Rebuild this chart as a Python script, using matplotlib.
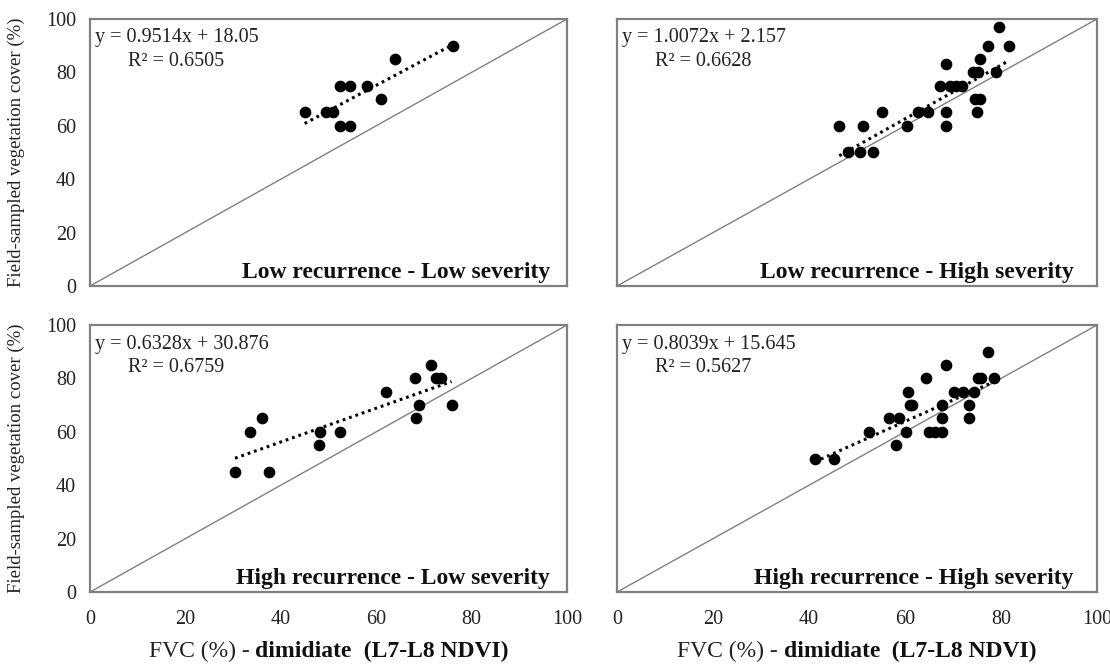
import matplotlib
matplotlib.use("Agg")
import matplotlib.pyplot as plt
import numpy as np

plt.rcParams['font.family'] = ['Liberation Serif', 'DejaVu Serif']

titles = ["Low recurrence - Low severity", "Low recurrence - High severity",
          "High recurrence - Low severity", "High recurrence - High severity"]

x_llow = [45, 49.5, 51, 52.5, 54.5, 52.5, 54.5, 58, 61, 64, 76]
y_llow = [65, 65, 65, 75, 75, 60, 60, 75, 70, 85, 90]

x_lhigh = [46.3, 48.2, 50.7, 53.3, 51.3, 55.3, 60.5, 62.7, 64.8, 67.2, 68.6, 68.6, 68.6,
           69.3, 70.7, 71.9, 74.1, 75.2, 75.6, 74.5, 75.6, 75, 77.2, 79, 79.5, 81.6]
y_lhigh = [60, 50, 50, 50, 60, 65, 60, 65, 65, 75, 83, 65, 60,
           75, 75, 75, 80, 80, 85, 70, 70, 65, 90, 80, 97, 90]

x_hlow = [30.4, 33.5, 36.1, 37.5, 48.3, 48.1, 52.4, 62.1, 68.1, 68.9, 68.3, 71.4, 72.6, 73.5, 75.8]
y_hlow = [45, 60, 65, 45, 60, 55, 60, 75, 80, 70, 65, 85, 80, 80, 70]

x_hhigh = [41.2, 45.2, 52.4, 56.7, 58.8, 58.2, 60.3, 60.6, 61.0, 61.4, 64.4, 64.9, 66.3, 67.7,
           67.8, 67.8, 68.5, 70.1, 72.0, 74.4, 73.3, 73.3, 75.3, 75.9, 78.5, 77.2]
y_hhigh = [50, 50, 60, 65, 65, 55, 60, 75, 70, 70, 80, 60, 60, 60,
           65, 70, 85, 75, 75, 75, 70, 65, 80, 80, 80, 90]

slopes = [0.9514, 1.0072, 0.6328, 0.8039]
intercepts = [18.05, 2.157, 30.876, 15.645]
eq_texts = ["y = 0.9514x + 18.05", "y = 1.0072x + 2.157", "y = 0.6328x + 30.876", "y = 0.8039x + 15.645"]
r2_texts = ["R\u00b2 = 0.6505", "R\u00b2 = 0.6628", "R\u00b2 = 0.6759", "R\u00b2 = 0.5627"]

xs = [x_llow, x_lhigh, x_hlow, x_hhigh]
ys = [y_llow, y_lhigh, y_hlow, y_hhigh]

ticks = [0, 20, 40, 60, 80, 100]

fig = plt.figure(figsize=(11.1, 6.64), dpi=100)
positions = [
    [0.0811, 0.5693, 0.4297, 0.4021],
    [0.5559, 0.5693, 0.4324, 0.4021],
    [0.0811, 0.1084, 0.4297, 0.4021],
    [0.5559, 0.1084, 0.4324, 0.4021],
]
title_x = [0.964, 0.952, 0.964, 0.952]

label_parts = []
for i in range(4):
    ax = fig.add_axes(positions[i])
    ax.set_xlim(0, 100)
    ax.set_ylim(0, 100)
    ax.plot([0, 100], [0, 100], color='#808080', lw=1.0, zorder=1)
    ax.plot(xs[i], ys[i], 'o', color='black', markersize=7.4, zorder=3)
    xf = np.array([min(xs[i]), max(xs[i])])
    ax.plot(xf, slopes[i] * xf + intercepts[i], color='black', lw=2.2,
            linestyle=(0, (0.9, 1.3)), zorder=2)
    for s in ax.spines.values():
        s.set_color('#808080')
        s.set_linewidth(1.6)
    ax.set_xticks(ticks)
    ax.set_yticks(ticks)
    ax.tick_params(axis='both', length=0, labelsize=14.5, colors='#222222')
    ax.tick_params(axis='x', pad=13)
    ax.tick_params(axis='y', pad=10)
    if i % 2 == 1:
        ax.set_yticklabels([])
    else:
        ax.set_ylabel("Field-sampled vegetation cover (%)", fontsize=13.5, labelpad=15,
                      color='#222222')
    if i < 2:
        ax.set_xticklabels([])
    ax.text(1.0, 91.2, eq_texts[i], fontsize=14.5, va='baseline', ha='left', color='#222222')
    ax.text(8.0, 82.3, r2_texts[i], fontsize=14.5, va='baseline', ha='left', color='#222222')
    ax.text(title_x[i], 0.03, titles[i], transform=ax.transAxes, fontsize=17,
            fontweight='bold', va='baseline', ha='right', color='#111111')
    if i >= 2:
        t1 = ax.text(0.0, -0.245, "FVC (%) - ", transform=ax.transAxes,
                     fontsize=17, va='baseline', ha='left', color='#222222')
        t2 = ax.annotate("dimidiate", xy=(1, 0), xycoords=t1, fontsize=17,
                         fontweight='bold', va='bottom', ha='left', color='#111111')
        t3 = ax.annotate("  (L7-L8 NDVI)", xy=(1, 0), xycoords=t2, fontsize=17,
                         fontweight='bold', va='bottom', ha='left', color='#111111')
        label_parts.append((ax, t1, t3))

fig.canvas.draw()
r = fig.canvas.get_renderer()
for ax, t1, t3 in label_parts:
    b1 = t1.get_window_extent(r)
    b3 = t3.get_window_extent(r)
    axb = ax.get_window_extent(r)
    width = b3.x1 - b1.x0
    cx = (axb.x0 + axb.x1) / 2
    newx0 = cx - width / 2
    t1.set_x((newx0 - axb.x0) / axb.width)

fig.savefig("out.png", dpi=100)
